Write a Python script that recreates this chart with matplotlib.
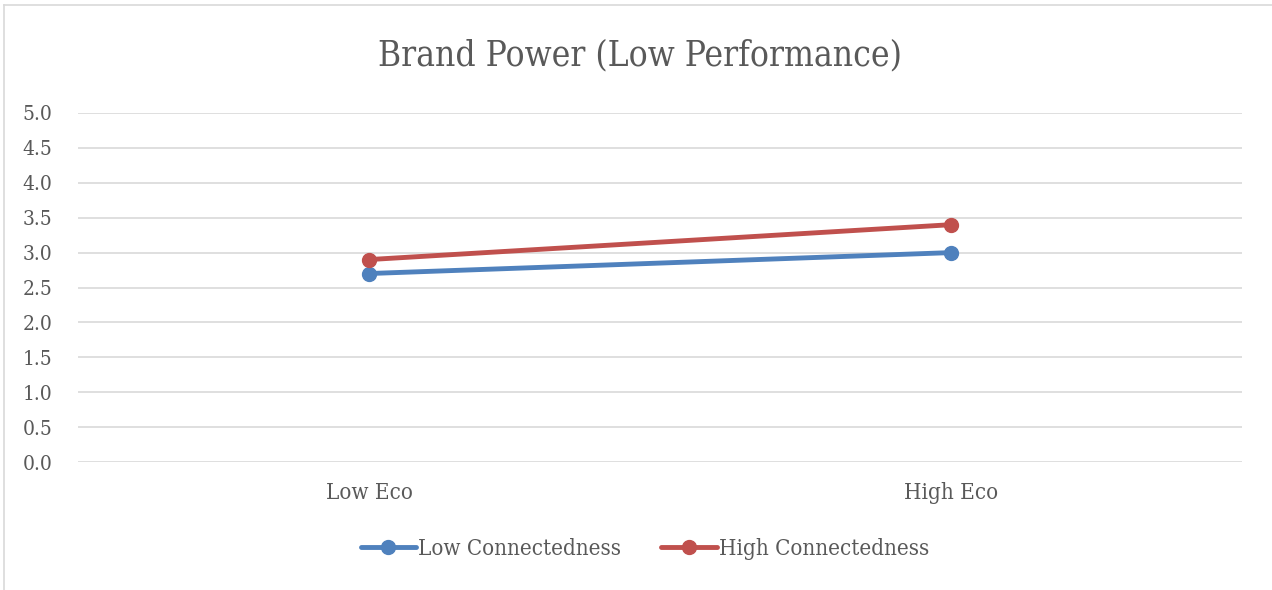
import matplotlib.pyplot as plt
from matplotlib.lines import Line2D

categories = ['Low Eco', 'High Eco']
low_conn = [2.7, 3.0]
high_conn = [2.9, 3.4]
series_names = ['Low Connectedness', 'High Connectedness']
y_ticks = [0.0, 0.5, 1.0, 1.5, 2.0, 2.5, 3.0, 3.5, 4.0, 4.5, 5.0]

plt.rcParams['font.family'] = ['DejaVu Serif']
plt.rcParams['font.stretch'] = 'condensed'
text_color = '#595959'
grid_color = '#d9d9d9'

fig = plt.figure(figsize=(12.72, 5.90), dpi=100)
ax = fig.add_axes([78 / 1272, 1 - 462 / 590, (1242 - 78) / 1272, (462 - 113) / 590])

x = range(len(categories))
ax.plot(x, low_conn, color='#4f81bd', lw=3.5, marker='o', ms=10,
        solid_capstyle='round', label=series_names[0])
ax.plot(x, high_conn, color='#c0504d', lw=3.5, marker='o', ms=10,
        solid_capstyle='round', label=series_names[1])

ax.set_xlim(-0.5, len(categories) - 0.5)
ax.set_ylim(0, 5)
ax.set_yticks(y_ticks)
ax.set_yticklabels([f'{v:.1f}' for v in y_ticks])
ax.set_xticks(list(x))
ax.set_xticklabels(categories)
ax.grid(axis='y', color=grid_color, lw=1.2)
ax.set_axisbelow(True)
for s in ax.spines.values():
    s.set_visible(False)
ax.tick_params(axis='both', length=0, colors=text_color)
ax.tick_params(axis='y', labelsize=15, pad=18.5)
ax.tick_params(axis='x', labelsize=16, pad=14.5)

fig.text(0.503, 1 - 55 / 590, 'Brand Power (Low Performance)', ha='center', va='center',
         fontsize=25.3, color=text_color)

leg = fig.legend(loc='center', bbox_to_anchor=(645 / 1272, 1 - 549 / 590), ncol=2,
                 frameon=False, fontsize=16, handlelength=2.5, handletextpad=0.1,
                 columnspacing=1.8)
for t in leg.get_texts():
    t.set_color(text_color)

# chart border (top and left edges visible)
fig.add_artist(Line2D([4 / 1272, 4 / 1272], [0, 1 - 5 / 590], transform=fig.transFigure,
                      color=grid_color, lw=1.2))
fig.add_artist(Line2D([4 / 1272, 1], [1 - 5 / 590, 1 - 5 / 590], transform=fig.transFigure,
                      color=grid_color, lw=1.2))

fig.savefig('out.png', dpi=100)
